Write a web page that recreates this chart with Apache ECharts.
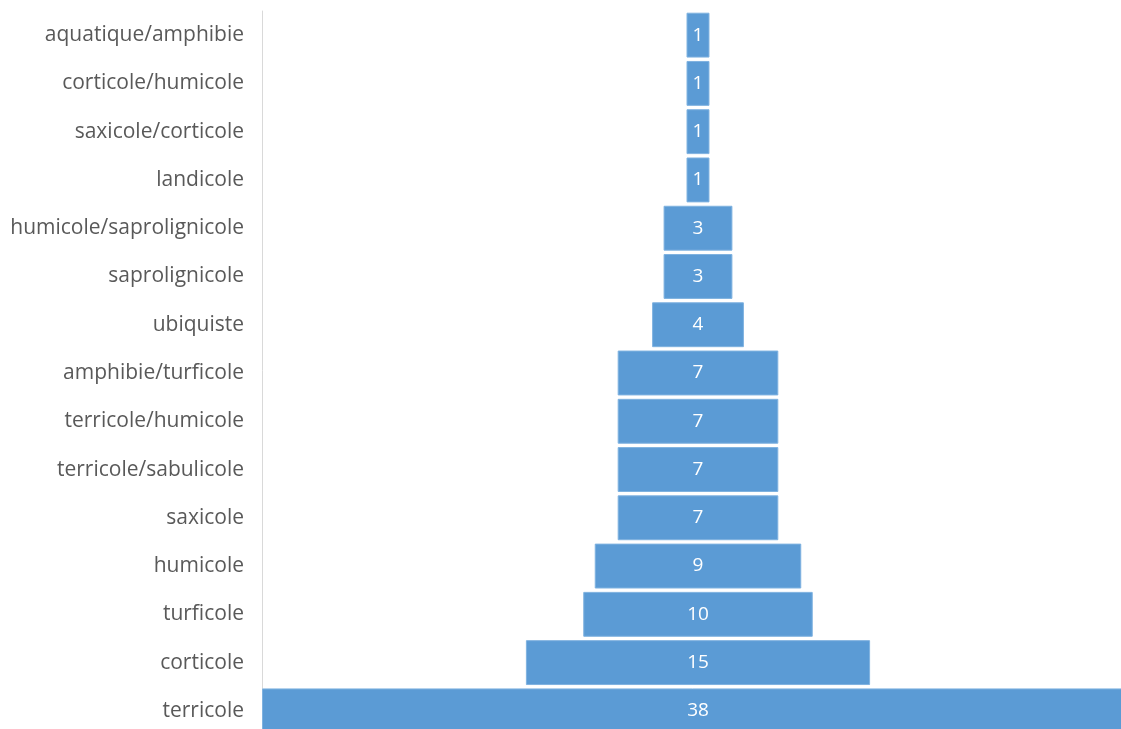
<!DOCTYPE html>
<html><head><meta charset="utf-8">
<script src="https://cdn.jsdelivr.net/npm/echarts@6/dist/echarts.min.js"></script>
<style>html,body{margin:0;padding:0;background:#fff}#c{width:1121px;height:729px}</style>
</head><body><div id="c"></div>
<script>
const categories = ["aquatique/amphibie","corticole/humicole","saxicole/corticole","landicole","humicole/saprolignicole","saprolignicole","ubiquiste","amphibie/turficole","terricole/humicole","terricole/sabulicole","saxicole","humicole","turficole","corticole","terricole"];
const values = [1,1,1,1,3,3,4,7,7,7,7,9,10,15,38];
const maxValue = 38;
const offsets = values.map(v => (maxValue - v) / 2);
const chart = echarts.init(document.getElementById('c'));
chart.setOption({
  animation: false,
  grid: {left: 262, width: 872, top: 11, height: 724, outerBoundsMode: 'none', containLabel: false},
  xAxis: {type: 'value', min: 0, max: maxValue, show: false},
  yAxis: {type: 'category', inverse: true, data: categories,
    axisLine: {show: true, lineStyle: {color: '#d9d9d9', width: 1}},
    axisTick: {show: false},
    axisLabel: {color: '#595959', fontSize: 21, fontFamily: 'Open Sans', margin: 18}},
  series: [
    {type: 'bar', stack: 's', data: offsets, itemStyle: {color: 'transparent'}, silent: true, barCategoryGap: '7%'},
    {type: 'bar', stack: 's', data: values, barCategoryGap: '7%',
      itemStyle: {color: '#5b9bd5', borderColor: '#7fb2e0', borderWidth: 1},
      label: {show: true, position: 'inside', color: '#fff', fontSize: 19, fontFamily: 'Open Sans'}}
  ]
});
</script></body></html>
